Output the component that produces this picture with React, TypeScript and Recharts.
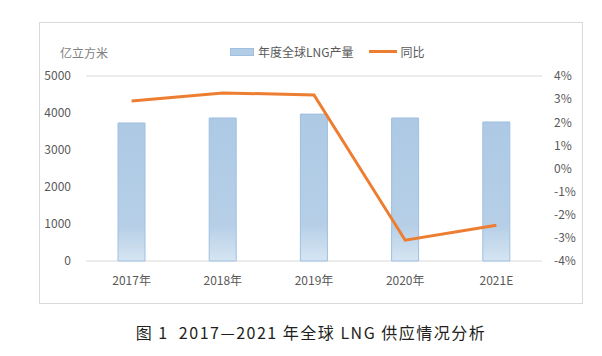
import React from 'react';
import { ComposedChart, Bar, Line, XAxis, YAxis, CartesianGrid } from 'recharts';

const years = ['2017年', '2018年', '2019年', '2020年', '2021E'];
const supply = [3730, 3865, 3970, 3865, 3757];
const yoy = [2.92, 3.27, 3.18, -3.1, -2.45];
const leftTicks = [0, 1000, 2000, 3000, 4000, 5000];
const rightTicks = [-4, -3, -2, -1, 0, 1, 2, 3, 4];

const data = years.map((name, i) => ({ name, supply: supply[i], yoy: yoy[i] }));

const font = '"Noto Sans CJK SC", "Noto Sans", sans-serif';
const tickStyle = { fill: '#595959', fontSize: 12, fontFamily: font };

export default function App() {
  return (
    <div style={{ margin: -8, width: 602, height: 356, position: 'relative', background: '#fff', fontFamily: font }}>
      <div style={{ position: 'absolute', left: 39, top: 22, width: 544, height: 282, border: '1px solid #d9d9d9', boxSizing: 'border-box' }}>
        <ComposedChart width={542} height={280} data={data} margin={{ top: 53, right: 0, bottom: 0, left: 0 }}>
          <defs>
            <linearGradient id="barFill" x1="0" y1="0" x2="0" y2="1">
              <stop offset="0%" stopColor="#adc9e4" />
              <stop offset="75%" stopColor="#b6cfe7" />
              <stop offset="100%" stopColor="#d6e5f2" />
            </linearGradient>
          </defs>
          <CartesianGrid stroke="#d9d9d9" vertical={false} />
          <XAxis dataKey="name" axisLine={false} tickLine={false} tickSize={0} tickMargin={15} height={42} tick={tickStyle} />
          <YAxis yAxisId="left" domain={[0, 5000]} ticks={leftTicks} axisLine={false} tickLine={false} tickSize={0} tickMargin={15} width={46} tick={tickStyle} />
          <YAxis yAxisId="right" orientation="right" domain={[-4, 4]} ticks={rightTicks} axisLine={false} tickLine={false} tickSize={0} tickMargin={12} width={40}
            tick={tickStyle} tickFormatter={(v: number) => `${v}%`} />
          <Bar yAxisId="left" dataKey="supply" name="年度全球LNG产量" fill="url(#barFill)" stroke="#9fc0e0" strokeWidth={1} barSize={27} isAnimationActive={false} />
          <Line yAxisId="right" type="linear" dataKey="yoy" name="同比" stroke="#ed7d31" strokeWidth={3} dot={false} isAnimationActive={false} />
        </ComposedChart>
        <div style={{ position: 'absolute', left: 20, top: 21, fontSize: 12, color: '#7f7f7f' }}>亿立方米</div>
        <div style={{ position: 'absolute', left: 190, top: 20, display: 'flex', alignItems: 'center', fontSize: 12, color: '#595959' }}>
          <span style={{ display: 'inline-block', width: 24, height: 8, background: '#b3cde6', border: '1px solid #9fc0e0', boxSizing: 'border-box', marginRight: 4 }} />
          <span>年度全球LNG产量</span>
          <span style={{ display: 'inline-block', width: 28, height: 3, background: '#ed7d31', marginLeft: 16, marginRight: 3 }} />
          <span>同比</span>
        </div>
      </div>
      <div style={{ position: 'absolute', left: 0, width: 622, top: 320, textAlign: 'center', fontSize: 16, color: '#231f20', letterSpacing: 1.5, whiteSpace: 'pre' }}>
        图 1  2017—2021 年全球 LNG 供应情况分析
      </div>
    </div>
  );
}
